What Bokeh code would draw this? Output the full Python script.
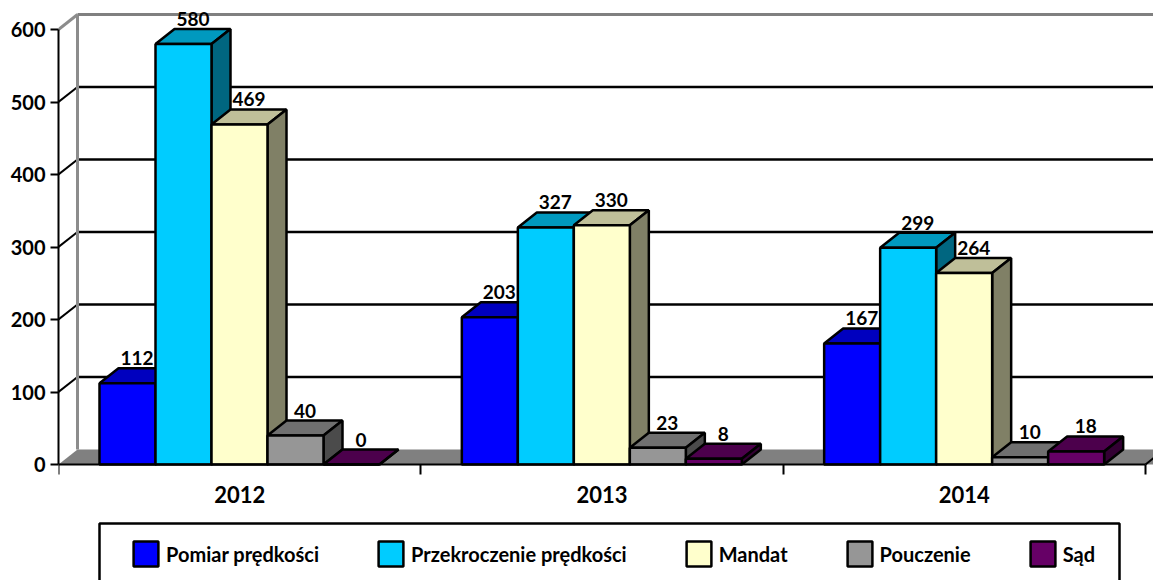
from bokeh.plotting import figure
from bokeh.embed import file_html
from bokeh.resources import INLINE
from bokeh.core.properties import value
from bokeh.models import Range1d, FixedTicker, Legend, LegendItem, BoxAnnotation

years = ["2012", "2013", "2014"]
series = ["Pomiar prędkości", "Przekroczenie prędkości", "Mandat", "Pouczenie", "Sąd"]
pomiar = [112, 203, 167]
przekroczenie = [580, 327, 299]
mandat = [469, 330, 264]
pouczenie = [40, 23, 10]
sad = [0, 8, 18]
y_ticks = [0, 100, 200, 300, 400, 500, 600]
front = ["#0000FF", "#00CCFF", "#FFFFCC", "#969696", "#660066"]
top = ["#0000BF", "#0099BF", "#BFBF99", "#707070", "#4C004C"]
side = ["#000080", "#006680", "#808066", "#4B4B4B", "#330033"]

values = [pomiar, przekroczenie, mandat, pouczenie, sad]
FONT = "Lato"
PX_X = 362.33
PX_Y = 0.725
DX = 19 / PX_X
DY = 15 / PX_Y
W = 56 / PX_X
GAP = 41 / PX_X
XMAX = (1153 - 58) / PX_X
LW = 2.5

p = figure(width=1153, height=580, output_backend="svg", toolbar_location=None,
           x_range=Range1d(0, XMAX), y_range=Range1d(-(580 - 464) / PX_Y, 464 / PX_Y),
           min_border_left=58, min_border_right=0, min_border_top=0, min_border_bottom=0)
p.outline_line_color = None
p.grid.visible = False

# axes
xa = p.xaxis[0]
xa.fixed_location = 0
xa.ticker = FixedTicker(ticks=[0.5, 1.5, 2.5], minor_ticks=[0, 1, 2, 3])
xa.major_label_overrides = {0.5: years[0], 1.5: years[1], 2.5: years[2]}
xa.major_tick_out = 0
xa.major_tick_in = 0
xa.minor_tick_out = 10
xa.minor_tick_in = 0
xa.minor_tick_line_color = "black"
xa.minor_tick_line_width = 2
xa.axis_line_color = "black"
xa.axis_line_width = 2
xa.bounds = (0, 3)
xa.major_label_text_font = FONT
xa.major_label_text_font_style = "bold"
xa.major_label_text_font_size = "22px"
xa.major_label_text_color = "black"
xa.major_label_standoff = 11

ya = p.yaxis[0]
ya.ticker = FixedTicker(ticks=y_ticks, minor_ticks=[])
ya.major_tick_out = 8
ya.major_tick_in = 0
ya.major_tick_line_color = "black"
ya.major_tick_line_width = 2
ya.axis_line_color = "black"
ya.axis_line_width = 2
ya.bounds = (0, 600)
ya.major_label_text_font = FONT
ya.major_label_text_font_style = "bold"
ya.major_label_text_font_size = "20px"
ya.major_label_text_color = "black"
ya.major_label_standoff = 5

# walls and floor
p.patch([0, DX, XMAX + DX, XMAX], [0, DY, DY, 0], fill_color="#808080", line_color=None)
wall_y = [t + DY for t in y_ticks]
p.segment([DX] * 5, wall_y[1:6], [XMAX] * 5, wall_y[1:6], line_color="black", line_width=LW)
p.segment([0] * 5, y_ticks[1:6], [DX] * 5, wall_y[1:6], line_color="black", line_width=2)
p.line([DX, DX], [DY, 600 + DY], line_color="#8C8C8C", line_width=3)
p.line([DX, XMAX], [600 + DY, 600 + DY], line_color="#808080", line_width=3)
p.line([0, DX], [600, 600 + DY], line_color="#8C8C8C", line_width=3)
p.line([3, 3 + DX], [0, DY], line_color="black", line_width=2)

# bars
bars = []
for j, vals in enumerate(values):
    lefts = [i + GAP + j * W for i in range(3)]
    p.patches([[l, l + DX, l + W + DX, l + W] for l in lefts],
              [[v, v + DY, v + DY, v] for v in vals],
              fill_color=top[j], line_color="black", line_width=LW)
    p.patches([[l + W, l + W + DX, l + W + DX, l + W] for l in lefts],
              [[v, v + DY, DY, 0] for v in vals],
              fill_color=side[j], line_color="black", line_width=LW)
    bars.append(p.vbar(x=[l + W / 2 for l in lefts], top=vals, bottom=0, width=W,
                       fill_color=front[j], line_color="black", line_width=LW))

# data labels
for j, vals in enumerate(values):
    lefts = [i + GAP + j * W for i in range(3)]
    p.text([l + W / 2 + DX / 2 for l in lefts], [v + DY for v in vals], text=[str(v) for v in vals],
           text_font=value(FONT), text_font_style="bold", text_font_size="19px",
           text_color="black", text_align="center", text_baseline="alphabetic", y_offset=-10)

# legend
p.add_layout(BoxAnnotation(left=41, right=1061, top=57, bottom=-20,
                           left_units="screen", right_units="screen",
                           top_units="screen", bottom_units="screen",
                           fill_color=None, fill_alpha=0, line_color="black", line_alpha=1,
                           line_width=LW))
legend = Legend(items=[LegendItem(label=s, renderers=[b]) for s, b in zip(series, bars)],
                orientation="horizontal", location=(72, 11), spacing=56,
                glyph_width=31, glyph_height=31, label_standoff=5,
                label_text_baseline="top", padding=0, margin=0,
                border_line_color=None, background_fill_alpha=0,
                label_text_font=FONT, label_text_font_style="bold",
                label_text_font_size="20px", label_text_color="black")
p.add_layout(legend, "center")

open("out.html", "w").write(file_html(p, INLINE))
